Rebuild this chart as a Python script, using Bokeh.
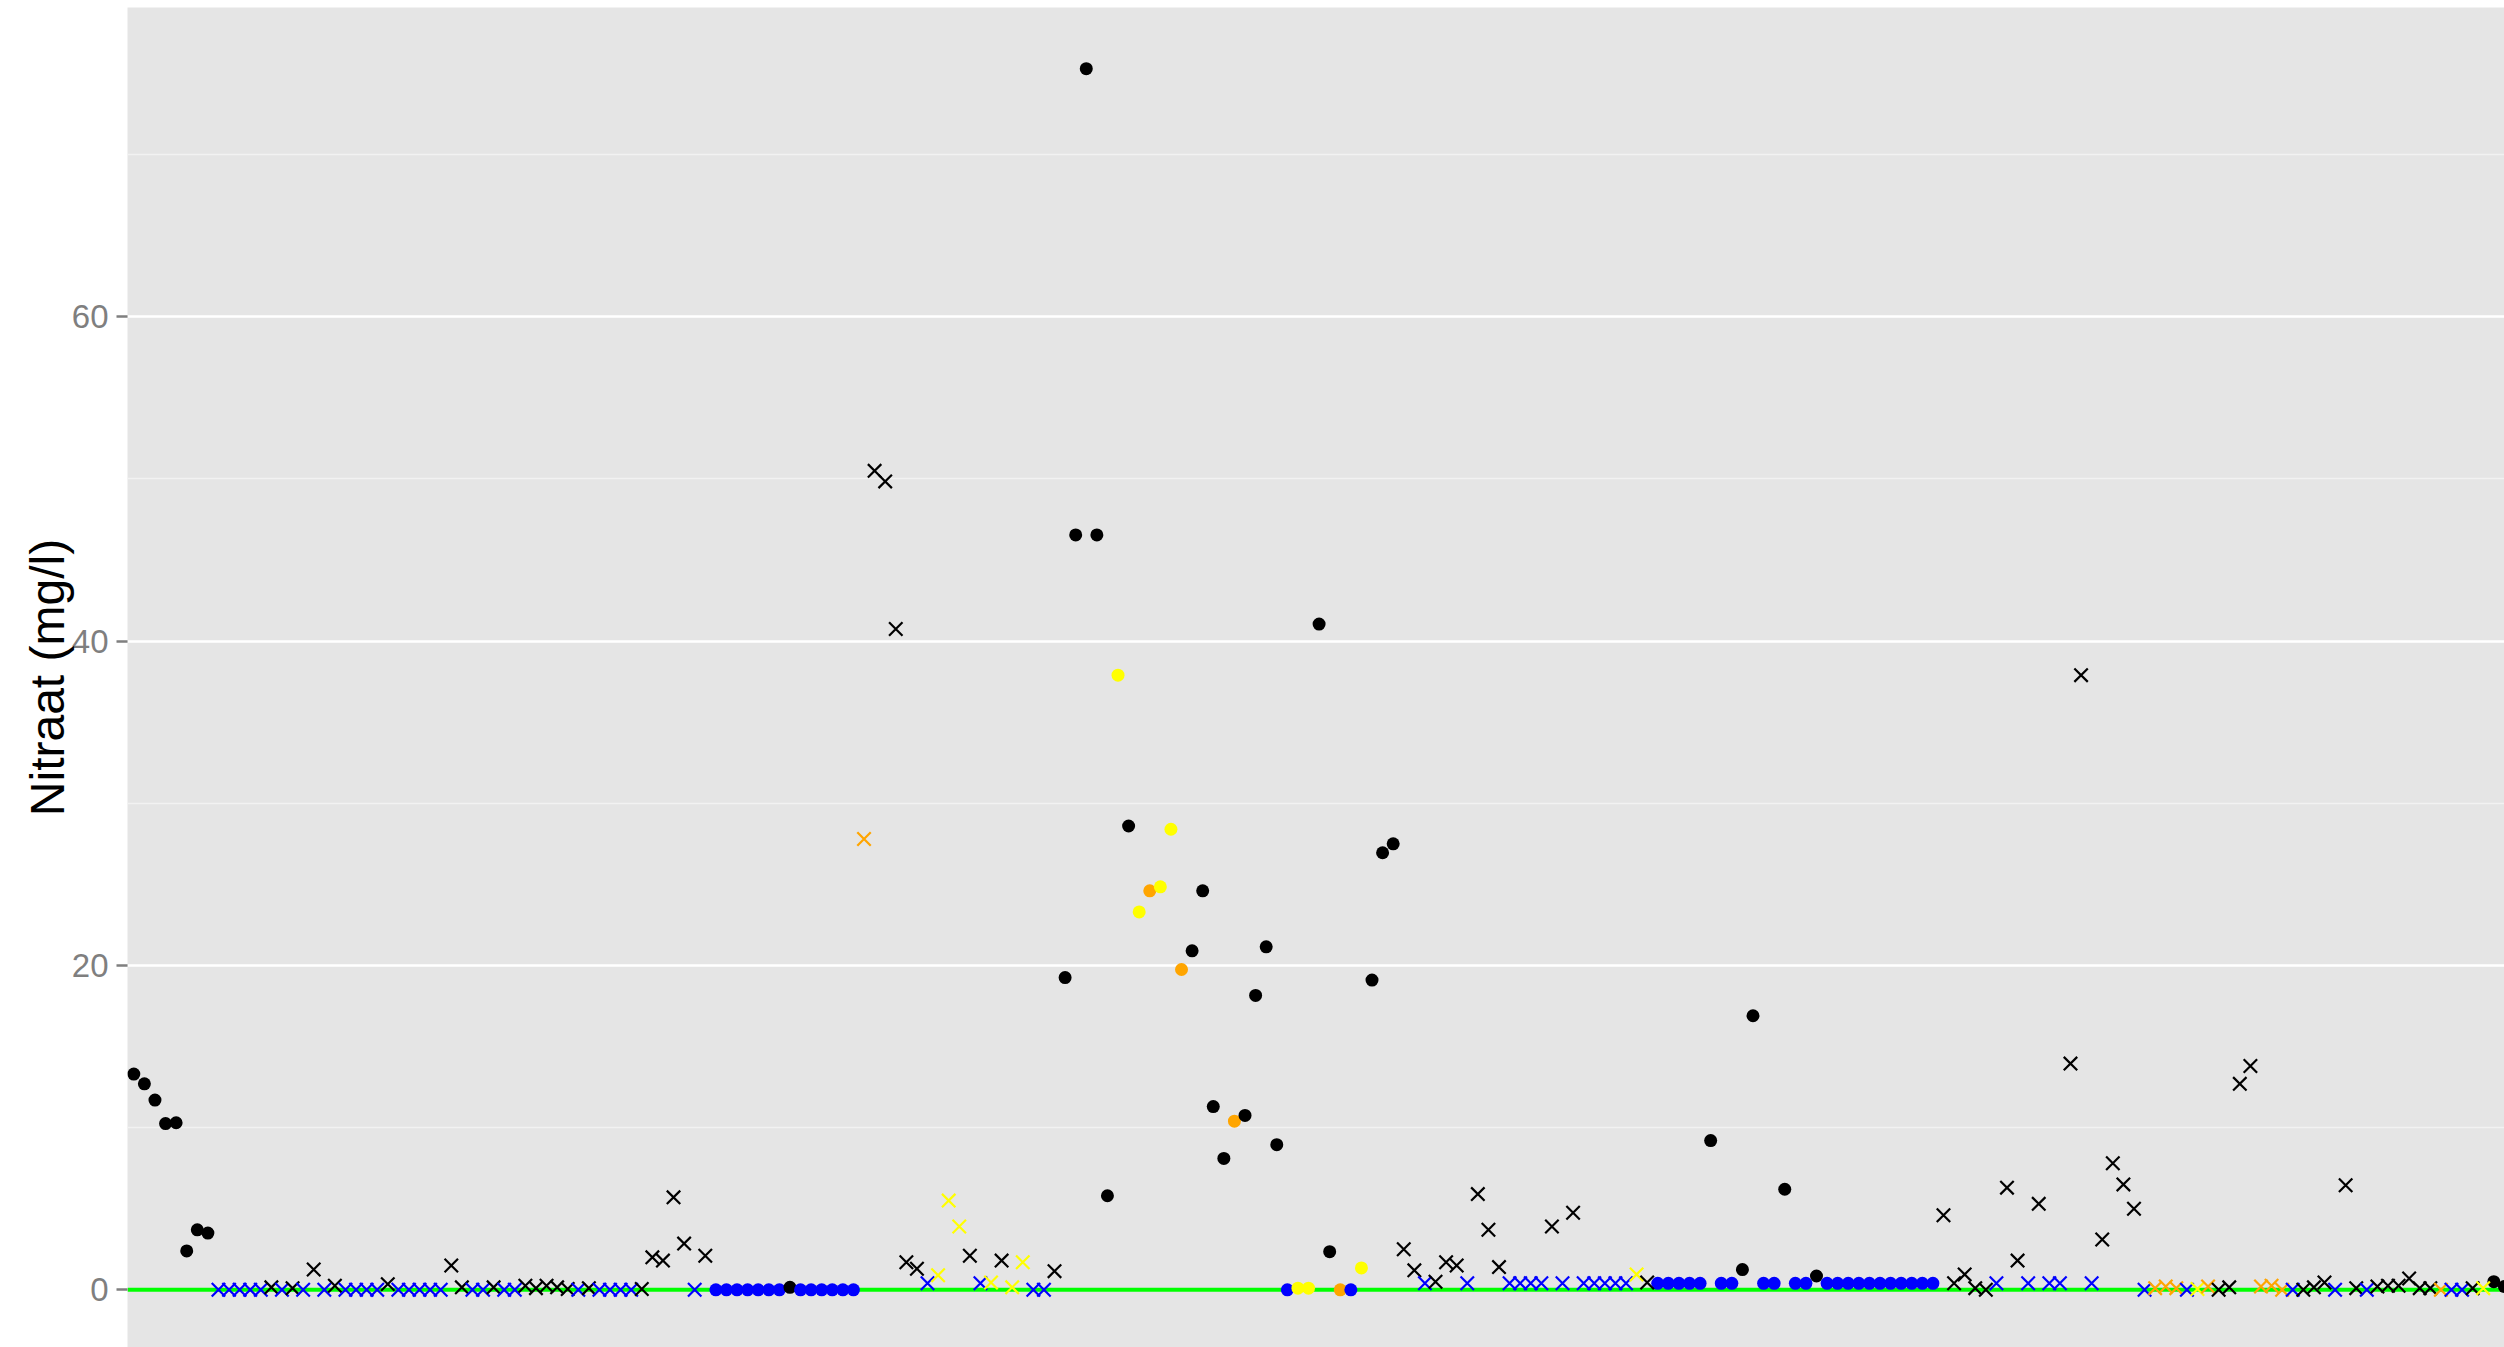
from bokeh.plotting import figure
from bokeh.models import ColumnDataSource, Range1d, FixedTicker, Span
from bokeh.embed import file_html
from bokeh.resources import INLINE

# Nitraat (mg/l) per meetpunt, in plot order (meetpunt 1..225)
nitraat = [
    13.3, 12.7, 11.7, 10.25, 10.3, 2.4, 3.7, 3.5, 0, 0, 0, 0, 0, 0.15, 0,
    0.1, 0, 1.25, 0, 0.25, 0, 0, 0, 0, 0.35, 0, 0, 0, 0, 0,
    1.5, 0.15, 0, 0, 0.15, 0, 0, 0.25, 0.1, 0.25, 0.15, 0.05, 0, 0.1, 0,
    0, 0, 0, 0.05, 2.0, 1.8, 5.7, 2.85, 0, 2.1, 0, 0, 0, 0, 0,
    0, 0, 0.15, 0, 0, 0, 0, 0, 0, 27.8, 50.5, 49.85, 40.75, 1.7, 1.3,
    0.4, 0.9, 5.5, 3.9, 2.1, 0.4, 0.45, 1.8, 0.15, 1.7, 0, 0, 1.15, 19.25, 46.55,
    75.3, 46.55, 5.8, 37.9, 28.6, 23.3, 24.6, 24.85, 28.4, 19.75, 20.9, 24.6, 11.3, 8.1, 10.4,
    10.75, 18.15, 21.15, 8.95, 0, 0.1, 0.1, 41.05, 2.35, 0, 0, 1.35, 19.1, 26.95, 27.5,
    2.5, 1.2, 0.4, 0.5, 1.7, 1.5, 0.4, 5.9, 3.7, 1.4, 0.4, 0.4, 0.4, 0.4, 3.9,
    0.4, 4.75, 0.4, 0.4, 0.4, 0.4, 0.4, 0.95, 0.45, 0.4, 0.4, 0.4, 0.4, 0.4, 9.2,
    0.4, 0.4, 1.25, 16.9, 0.4, 0.4, 6.2, 0.4, 0.4, 0.85, 0.4, 0.4, 0.4, 0.4, 0.4,
    0.4, 0.4, 0.4, 0.4, 0.4, 0.4, 4.6, 0.4, 0.95, 0.1, 0, 0.4, 6.3, 1.8, 0.4,
    5.3, 0.4, 0.4, 13.95, 37.9, 0.4, 3.1, 7.8, 6.5, 5.0, 0, 0.1, 0.2, 0.1, 0,
    0.05, 0.2, 0, 0.15, 12.7, 13.8, 0.2, 0.25, 0, 0, 0, 0.15, 0.45, 0, 6.45,
    0.1, 0, 0.2, 0.25, 0.25, 0.7, 0.1, 0.1, 0, 0, 0, 0.1, 0.1, 0.5, 0.2,
]

# symbol group per meetpunt: "o" = dot, "x" = cross
vorm = list(
    "oooooooo"
    "xxxxxxxxxxxxxxxxxxxxxxxxxxxxxxxxxxxxxxxxxxxxxxx"
    "oooooooooooooo"
    "xxxxxxxxxxxxxxxxxxx"
    "oooooooooooooooooooooooooooooooo"
    "xxxxxxxxxxxxxxxxxxxxxxxx"
    "ooooooooooooooooooooooooooo"
    "xxxxxxxxxxxxxxxxxxxxxxxxxxxxxxxxxxxxxxxxxxxxxxxxxxxx"
    "oo"
)

# class per meetpunt: k = zwart, b = blauw, y = geel, o = oranje
klasse = list(
    "kkkkkkkk" "bbbbbkb"
    "kbkbkbbbbkbbbbb"
    "kkbbkbbkkkkkbkb"
    "bbbkkkkkbkbbbbb"
    "bbkbbbbbbokkkkk"
    "byyykbykyybbkkk"
    "kkkykyoyyokkkko"
    "kkkkbyykkobykkk"
    "kkbkkkbkkkbbbbk"
    "bkbbbbbykbbbbbk"
    "bbkkbbkbbkbbbbb"
    "bbbbbbkkkkkbkkb"
    "kbbkkbkkkkbooob"
    "yokkkkooobkkkbk"
    "kbkkkkkkobbkykk"
)

meetpunt = list(range(1, len(nitraat) + 1))
y_ticks = [0, 20, 40, 60]
y_minor = [10, 30, 50, 70]

kleuren = {"k": "#000000", "b": "#0000FF", "y": "#FFFF00", "o": "#FFA500"}

def subset(shape):
    xs, ys, cs = [], [], []
    for m, v, s, k in zip(meetpunt, nitraat, vorm, klasse):
        if s == shape:
            xs.append(m)
            ys.append(v)
            cs.append(kleuren[k])
    return ColumnDataSource(dict(x=xs, y=ys, c=cs))

W, H = 2504, 1347
LEFT, TOP = 127, 7
pitch = 10.583
ppu = 16.217

x0 = 1 - 6.3 / pitch
x1 = x0 + (W - LEFT) / pitch
ytop = (1289.3 - TOP) / ppu
ybot = ytop - (H - TOP) / ppu

p = figure(width=W, height=H, output_backend="svg", toolbar_location=None,
           x_range=Range1d(x0, x1), y_range=Range1d(ybot, ytop),
           x_axis_location=None, min_border_left=LEFT, min_border_right=0,
           min_border_top=TOP, min_border_bottom=0)
p.background_fill_color = "#E5E5E5"
p.border_fill_color = "white"
p.outline_line_color = None

for g in p.xgrid:
    g.visible = False

p.yaxis.ticker = FixedTicker(ticks=y_ticks, minor_ticks=y_minor)
p.ygrid.grid_line_color = "white"
p.ygrid.grid_line_width = 2.7
p.ygrid.minor_grid_line_color = "#F2F2F2"
p.ygrid.minor_grid_line_width = 1.3

ax = p.yaxis[0]
ax.axis_label = "Nitraat (mg/l)"
ax.axis_label_text_font = "Liberation Sans"
ax.axis_label_text_font_style = "normal"
ax.axis_label_text_font_size = "48px"
ax.axis_label_text_color = "black"
ax.axis_label_standoff = -5
ax.major_label_text_font = "Liberation Sans"
ax.major_label_text_font_size = "33px"
ax.major_label_text_color = "#7F7F7F"
ax.major_label_standoff = 8
ax.axis_line_color = None
ax.major_tick_in = 0
ax.major_tick_out = 11
ax.major_tick_line_color = "#7F7F7F"
ax.major_tick_line_width = 2.5
ax.minor_tick_line_color = None

p.add_layout(Span(location=0, dimension="width", line_color="#00FF00",
                  line_width=4, level="underlay"))

p.scatter("x", "y", source=subset("o"), marker="circle", size=13,
          fill_color="c", line_color=None)
p.scatter("x", "y", source=subset("x"), marker="x", size=19,
          line_color="c", line_width=2.2)

open("out.html", "w").write(file_html(p, INLINE))
